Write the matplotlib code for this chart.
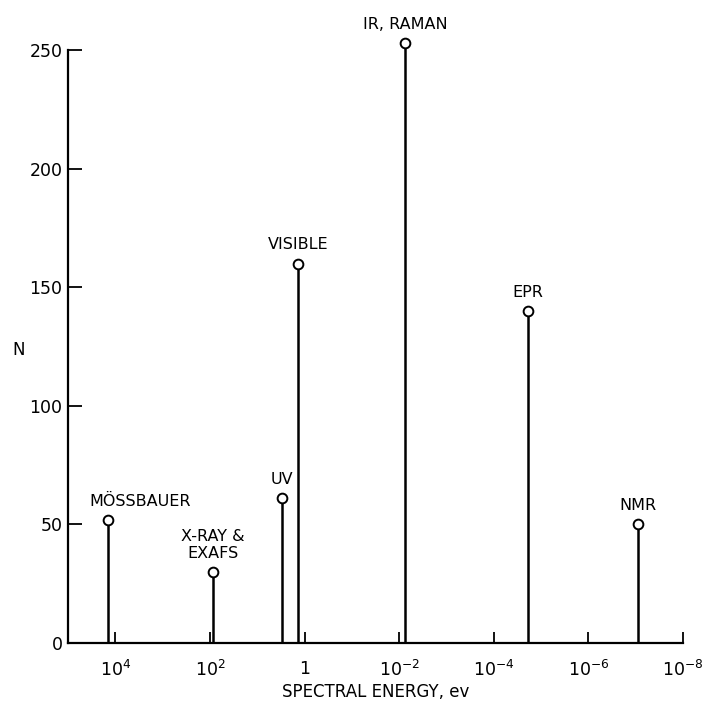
import matplotlib
matplotlib.use('Agg')
import matplotlib.pyplot as plt

# data
techniques = ['MÖSSBAUER', 'X-RAY &\nEXAFS', 'UV', 'VISIBLE', 'IR, RAMAN', 'EPR', 'NMR']
energy_ev = [1.4e4, 85, 3.0, 1.35, 7.5e-3, 1.9e-5, 9e-8]
counts = [52, 30, 61, 160, 253, 140, 50]
label_dx = [23, 0, 0, 0, 0, 0, 0]  # points

xticks = [1e4, 1e2, 1, 1e-2, 1e-4, 1e-6, 1e-8]
xticklabels = ['$10^{4}$', '$10^{2}$', '1', '$10^{-2}$', '$10^{-4}$', '$10^{-6}$', '$10^{-8}$']
yticks = [0, 50, 100, 150, 200, 250]

plt.rcParams['font.family'] = 'DejaVu Sans'

fig = plt.figure(figsize=(7.11, 7.11), dpi=100)
ax = fig.add_axes([0.0956, 0.0956, 0.865, 0.834])

ax.set_xscale('log')
ax.set_xlim(1e5, 1e-8)
ax.set_ylim(0, 250)

# stems
ax.vlines(energy_ev, 0, counts, colors='black', linewidth=1.8, zorder=2, clip_on=False)
ax.plot(energy_ev, counts, 'o', markersize=7, markerfacecolor='white',
        markeredgecolor='black', markeredgewidth=1.4, zorder=3, clip_on=False)

for name, x, y, dx in zip(techniques, energy_ev, counts, label_dx):
    ax.annotate(name, (x, y), xytext=(dx, 8), textcoords='offset points',
                ha='center', va='bottom', fontsize=11.5, linespacing=1.15,
                annotation_clip=False)

# axes styling
for s in ['top', 'right']:
    ax.spines[s].set_visible(False)
ax.spines['left'].set_bounds(0, 250)
ax.spines['left'].set_linewidth(1.6)
ax.spines['bottom'].set_linewidth(1.6)

ax.set_xticks(xticks)
ax.set_xticklabels(xticklabels)
ax.xaxis.set_minor_locator(matplotlib.ticker.NullLocator())
ax.set_yticks(yticks)
ax.tick_params(axis='x', direction='in', length=8, width=1.3, pad=12, labelsize=12.5)
ax.tick_params(axis='y', direction='in', length=10, width=1.3, pad=4, labelsize=12.5)

ax.set_xlabel('SPECTRAL ENERGY, ev', fontsize=12, labelpad=2)
ax.set_ylabel('N', fontsize=12, rotation=0, va='center', ha='center')
ax.yaxis.set_label_coords(-0.08, 0.494)

fig.savefig('out.png', dpi=100, facecolor='white')
